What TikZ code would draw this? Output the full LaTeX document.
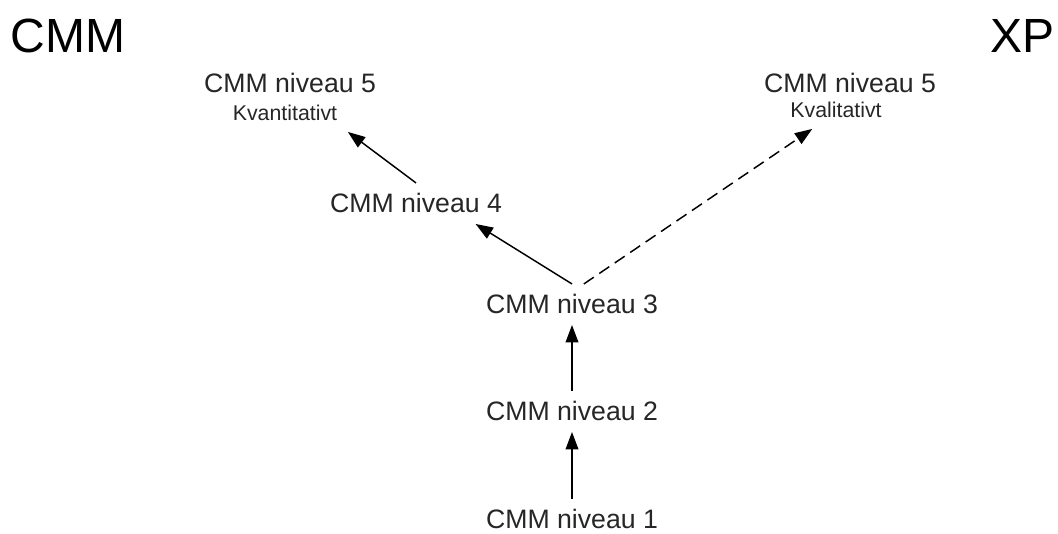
\documentclass[tikz,border=0pt]{standalone}
\usepackage{fontspec}
\setmainfont{Liberation Sans}
\usetikzlibrary{arrows.meta}
\begin{document}
\begin{tikzpicture}[x=0.75pt, y=-0.75pt, >={Triangle[length=13pt,width=9.5pt]}, line width=1.1pt]
\tikzstyle{every node}=[inner sep=7.5pt, text=black!85, anchor=base]
\tikzstyle{level}=[font=\fontsize{20}{24}\selectfont]
\tikzstyle{sub}=[font=\fontsize{16}{19}\selectfont]
\tikzstyle{title}=[font=\fontsize{36}{43}\selectfont, inner sep=0pt, text=black]
\useasboundingbox (0,0) rectangle (1058,534);
\node[title, anchor=base west] (CMM) at (10, 53) {CMM};
\node[title, anchor=base east] (XP) at (1055, 53) {XP};
\node[level] (L1) at (572, 529) {CMM niveau 1};
\node[level] (L2) at (572, 421) {CMM niveau 2};
\node[level] (L3) at (572, 314) {CMM niveau 3};
\node[level] (L4) at (416, 213) {CMM niveau 4};
\node[level] (L5a) at (290, 93) {CMM niveau 5};
\node[sub] (Kvant) at (285, 121) {Kvantitativt};
\node[level] (L5b) at (850, 93) {CMM niveau 5};
\node[sub] (Kval) at (836, 118) {Kvalitativt};
\draw [->] (L1) to (L2);
\draw [->] (L2) to (L3);
\draw [->] (L3.north) to (L4.-19);
\draw [->] (L4.north) to (Kvant.south east);
\draw [->, dash pattern=on 9pt off 5pt] (L3.60) to (Kval.-142);
\end{tikzpicture}
\end{document}
